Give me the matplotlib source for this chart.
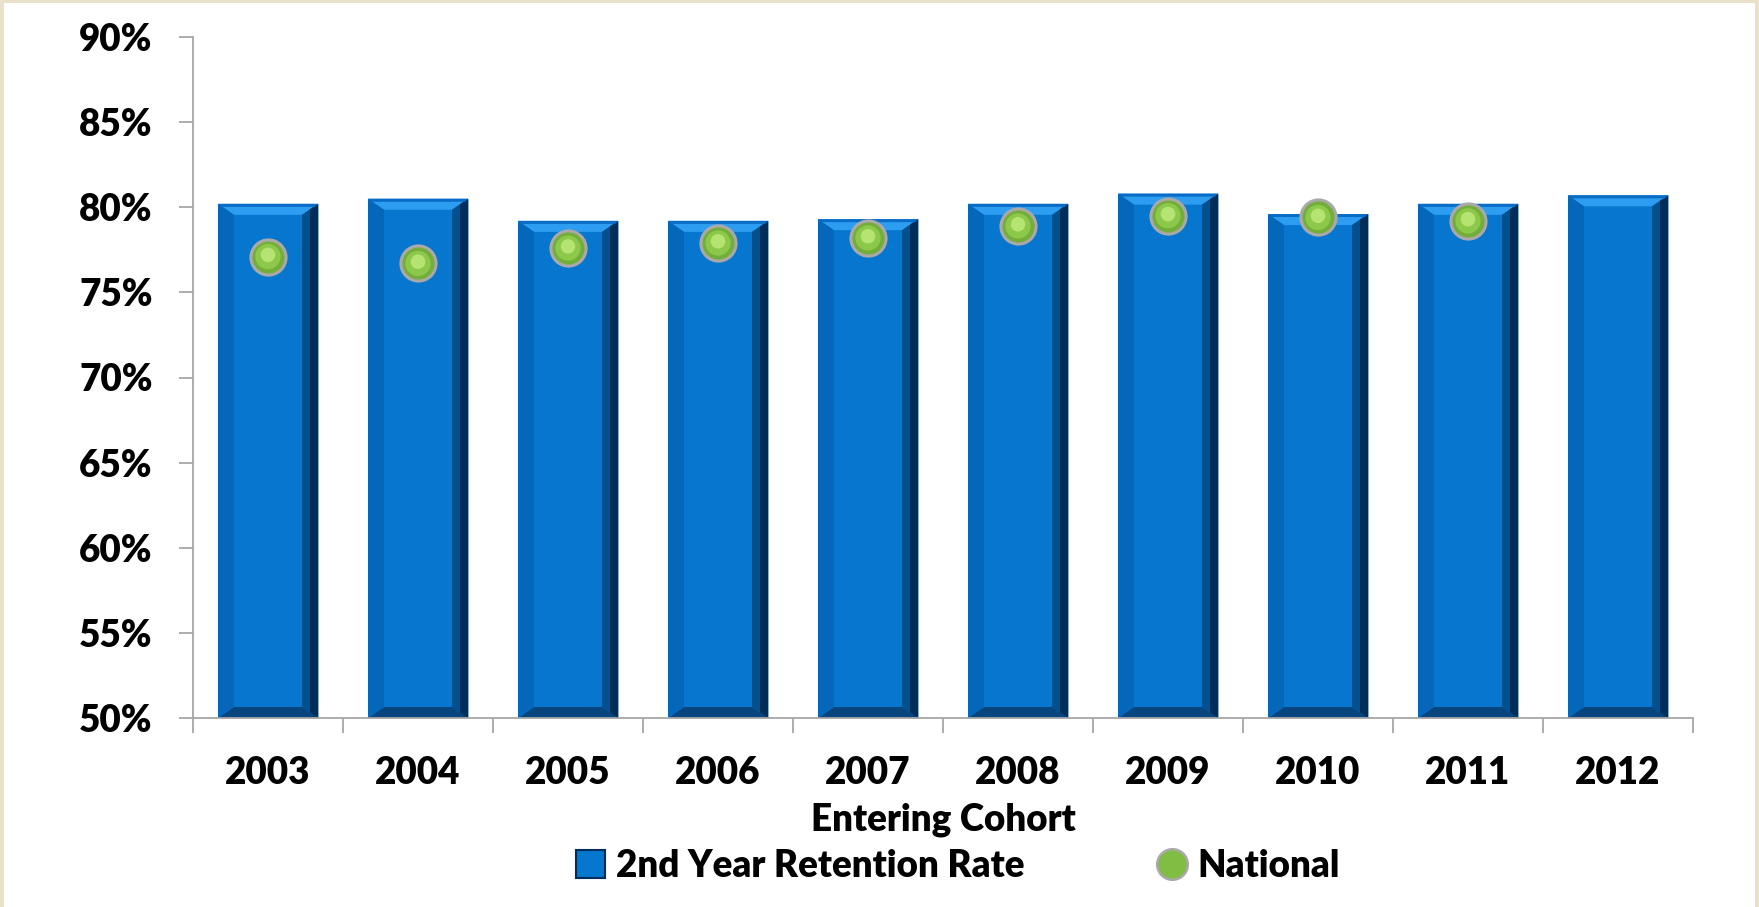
import numpy as np
import matplotlib
matplotlib.use("Agg")
import matplotlib.pyplot as plt
from matplotlib.patches import Polygon, Rectangle
from matplotlib.lines import Line2D
from matplotlib.transforms import IdentityTransform
from matplotlib.ticker import FuncFormatter, MultipleLocator

plt.rcParams["font.family"] = ["Lato", "DejaVu Sans"]
plt.rcParams["font.weight"] = "heavy"

# --- data
cohorts = ["2003", "2004", "2005", "2006", "2007", "2008", "2009", "2010", "2011", "2012"]
retention = [80.2, 80.5, 79.2, 79.2, 79.3, 80.2, 80.8, 79.6, 80.2, 80.7]
national = [77.1, 76.7, 77.6, 77.9, 78.2, 78.9, 79.5, 79.4, 79.2, np.nan]

bar_face = "#0676CE"
bevel_top = "#2C9DF1"
bevel_left = "#0567BA"
bevel_right_in = "#03508F"
bevel_right_out = "#002E5A"
bevel_bottom = "#07457E"
axis_gray = "#A6A6A6"
fw = "heavy"

fig = plt.figure(figsize=(17.59, 9.07), dpi=100, facecolor="#E9E1CA")
fig.add_artist(Rectangle((0.0025, 0.0), 0.9955, 0.9965, transform=fig.transFigure,
                         facecolor="white", edgecolor="none", zorder=0))
ax = fig.add_axes([193 / 1759, 1 - 718 / 907, 1500 / 1759, 681 / 907])
ax.set_facecolor("none")

x = np.arange(len(cohorts))
bars = ax.bar(x, retention, width=0.667, bottom=0, color=bar_face,
              edgecolor="#9DB3C8", linewidth=0.6, zorder=2)
ax.set_ylim(50, 90)
ax.set_xlim(-0.5, len(cohorts) - 0.5)

# bevel facets, computed from each bar in pixel space
fig.canvas.draw()
b, t = 16, 11
for rect in bars:
    x0, x1 = rect.get_x(), rect.get_x() + rect.get_width()
    (X0, Y0), (X1, Y1) = ax.transData.transform([(x0, 50), (x1, rect.get_height())])
    facets = [
        ([(X0, Y1), (X1, Y1), (X1 - b, Y1 - t), (X0 + b, Y1 - t)], bevel_top),
        ([(X0, Y0), (X1, Y0), (X1 - b, Y0 + t), (X0 + b, Y0 + t)], bevel_bottom),
        ([(X0, Y0), (X0 + b, Y0 + t), (X0 + b, Y1 - t), (X0, Y1)], bevel_left),
        ([(X1, Y0), (X1 - b, Y0 + t), (X1 - b, Y1 - t), (X1, Y1)], bevel_right_in),
        ([(X1, Y0), (X1 - b / 2, Y0 + t / 2), (X1 - b / 2, Y1 - t / 2), (X1, Y1)], bevel_right_out),
    ]
    for pts, c in facets:
        ax.add_patch(Polygon(pts, closed=True, facecolor=c, edgecolor="none",
                             transform=IdentityTransform(), zorder=2.1))
    # thin darker rim on the very top edge
    ax.add_patch(Polygon([(X0, Y1), (X1, Y1), (X1 - 3, Y1 - 3), (X0 + 3, Y1 - 3)], closed=True,
                         facecolor="#0A6CC4", edgecolor="none",
                         transform=IdentityTransform(), zorder=2.2))

# national markers as shaded spheres
ax.scatter(x, national, s=640, color="#74AE3A", edgecolors="#A9A9A9", linewidths=2.2, zorder=3)
ax.scatter(x, national, s=330, color="#8CC84A", edgecolors="none", zorder=3.1)
ax.scatter(x, np.array(national) + 0.1, s=110, color="#B5E472", edgecolors="none", zorder=3.2)

# axes styling
for side in ["top", "right"]:
    ax.spines[side].set_visible(False)
for side in ["left", "bottom"]:
    ax.spines[side].set_color(axis_gray)
    ax.spines[side].set_linewidth(1.3)

ax.yaxis.set_major_locator(MultipleLocator(5))
ax.yaxis.set_major_formatter(FuncFormatter(lambda v, p: f"{v:.0f}%"))
ax.tick_params(axis="y", length=10, width=1.3, color=axis_gray, pad=19, labelsize=26.5)
ax.set_xticks(x)
ax.set_xticklabels(cohorts)
ax.set_xticks(np.arange(-0.5, len(cohorts)), minor=True)
ax.tick_params(axis="x", which="major", length=0, pad=27, labelsize=26.5)
ax.tick_params(axis="x", which="minor", length=11, width=1.3, color=axis_gray)
for lab in ax.get_xticklabels() + ax.get_yticklabels():
    lab.set_fontweight(fw)

fig.text(943 / 1759, 1 - 820 / 907, "Entering Cohort", ha="center", va="center",
         fontsize=26.5, fontweight=fw)

handles = [
    Rectangle((0, 0), 1, 1, facecolor=bar_face, edgecolor=bevel_right_out, linewidth=1.5),
    Line2D([], [], marker="o", linestyle="none", markersize=22, markerfacecolor="#80BD42",
           markeredgecolor="#A9A9A9", markeredgewidth=1.8),
]
fig.legend(handles, ["2nd Year Retention Rate", "National"], loc="center",
           bbox_to_anchor=(958 / 1759, 1 - 866 / 907), ncol=2, frameon=False,
           prop={"size": 26.5, "weight": fw}, columnspacing=3.6, handlelength=0.8,
           handleheight=0.8, handletextpad=0.3)

fig.savefig("out.png", dpi=100, facecolor=fig.get_facecolor())
